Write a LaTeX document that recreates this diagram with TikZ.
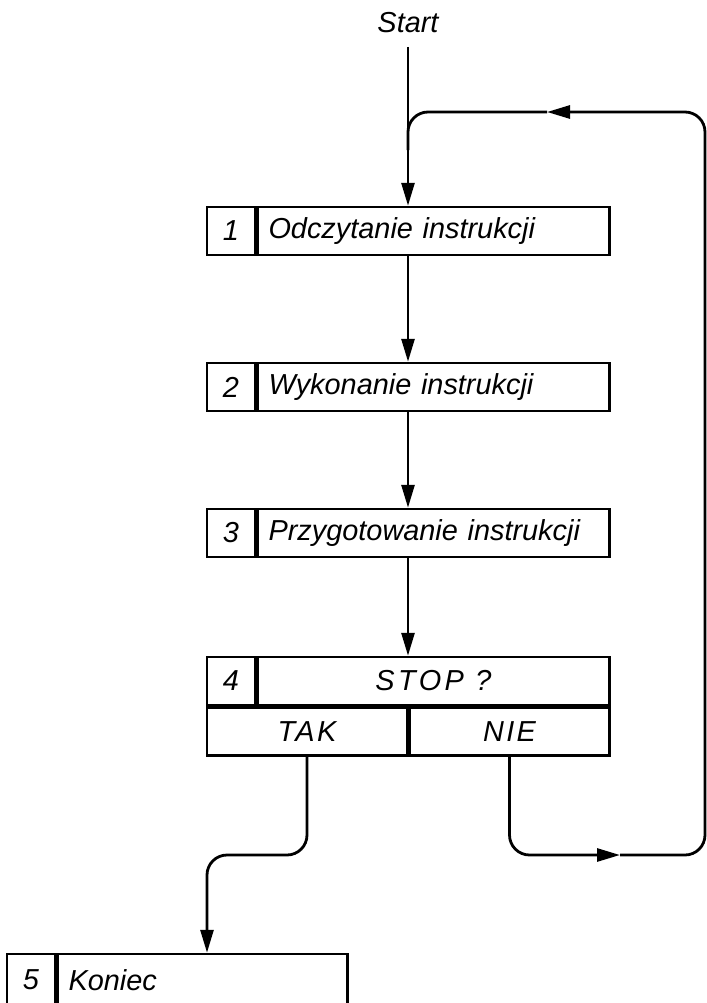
\documentclass[tikz,border=0pt]{standalone}
\usepackage{fontspec}
\setmainfont{Liberation Sans}
\usetikzlibrary{arrows.meta,positioning}

\tikzset{
  cell/.style={draw=black, line width=2.5bp, inner sep=0pt, minimum height=48bp,
    font=\itshape\fontsize{29}{31}\selectfont},
  numcell/.style={cell, minimum width=48bp},
  txtcell/.style={cell, text width=330bp, inner xsep=11bp, align=left},
  halfcell/.style={cell, minimum width=200bp},
  flow/.style={draw=black, line width=2.8bp},
  arr/.style={flow, -{Triangle[length=23bp,width=13bp]}}
}

\begin{document}
\begin{tikzpicture}[x=1bp,y=-1bp]
                \useasboundingbox (0,0) rectangle (707,1003);
                \node [font=\itshape\fontsize{29}{31}\selectfont] (start) at (408,23) {Start};
                \node [numcell] (num1) at (231,231) {1};
                \node [txtcell, anchor=west] (txt1) at (num1.east) {Odczytanie instrukcji};
                \node [numcell] (num2) at (231,387) {2};
                \node [txtcell, anchor=west] (txt2) at (num2.east) {Wykonanie instrukcji};
                \node [numcell] (num3) at (231,533) {3};
                \node [txtcell, anchor=west] (txt3) at (num3.east) {Przygotowanie instrukcji};
                \node [numcell] (num4) at (231,681) {4};
                \node [cell, minimum width=352bp, anchor=west] (stop) at (num4.east) {\addfontfeature{LetterSpace=12}STOP ?};
                \node [halfcell, anchor=north west] (tak) at (num4.south west) {\addfontfeature{LetterSpace=8}TAK};
                \node [halfcell, anchor=west] (nie) at (tak.east) {\addfontfeature{LetterSpace=8}NIE};
                \node [numcell, minimum height=52bp] (num5) at (31,980) {5};
                \node [cell, minimum height=52bp, text width=268bp, inner xsep=11bp, align=left, anchor=west] (txt5) at (num5.east) {Koniec};
                \coordinate (bend) at (207,855);
                \coordinate (ret1) at (620,855);
                \coordinate (rb) at (705,855);
                \coordinate (rt) at (705,112);
                \coordinate (ret2) at (547,112);
                \coordinate (join) at (408,150);
                \draw [arr] (start.south) ++(0,10) -- (start |- txt1.north);
                \draw [arr] (start |- txt1.south) -- (start |- txt2.north);
                \draw [arr] (start |- txt2.south) -- (start |- txt3.north);
                \draw [arr] (start |- txt3.south) -- (start |- stop.north);
                \draw [arr, rounded corners=20bp] (tak.south) |- (bend) -- (bend |- txt5.north);
                \draw [arr, rounded corners=20bp] (nie.south) |- (ret1);
                \draw [arr, rounded corners=20bp] (ret1) -- (rb) -- (rt) -- (ret2);
                \draw [flow, rounded corners=20bp] (ret2) -- (ret2 -| start) -- (join);
              \end{tikzpicture}
\end{document}
